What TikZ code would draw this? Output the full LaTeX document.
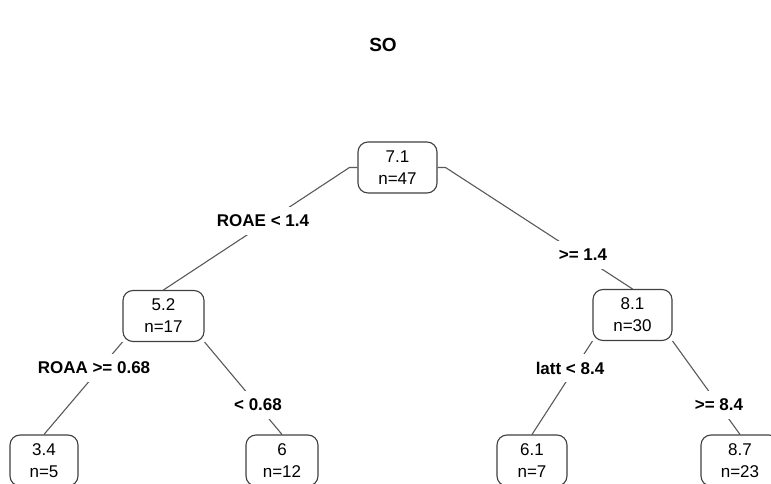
\documentclass[tikz,border=0pt]{standalone}
\usepackage{fontspec}
\setmainfont{Liberation Sans}
\usetikzlibrary{backgrounds}
\begin{document}
\begin{tikzpicture}[x=1pt,y=-1pt,
  tnode/.style={draw=black!75, line width=1.1pt, rounded corners=10pt, fill=white,
    minimum height=51pt, inner sep=0pt, align=center,
    font=\fontsize{17}{22}\selectfont},
  slabel/.style={fill=white, inner xsep=2pt, inner ysep=8pt,
    font=\fontsize{17}{20}\bfseries\selectfont},
  branch/.style={draw=black!65, line width=1.1pt}]
\clip (0,0) rectangle (771,484);
\node[font=\fontsize{19}{21}\bfseries\selectfont] (title) at (383,45) {SO};
% nodes
\node[tnode, minimum width=79pt] (n71) at (397.5,167.5) {7.1\\n=47};
\node[tnode, minimum width=81pt] (n52) at (163.5,316) {5.2\\n=17};
\node[tnode, minimum width=79pt] (n81) at (632.5,315) {8.1\\n=30};
\node[tnode, minimum width=68pt] (n34) at (44,460.5) {3.4\\n=5};
\node[tnode, minimum width=72pt] (n6) at (282,460.5) {6\\n=12};
\node[tnode, minimum width=70pt] (n61) at (532,460.5) {6.1\\n=7};
\node[tnode, minimum width=78pt] (n87) at (740,460.5) {8.7\\n=23};
% branches
\begin{pgfonlayer}{background}
\draw[branch] (n71.west) -- ++(-8,0) -- (n52.north);
\draw[branch] (n71.east) -- ++(8,0) -- (n81.north);
\draw[branch] (n52.south west) -- (n34.north);
\draw[branch] (n52.south east) -- (n6.north);
\draw[branch] (n81.south west) -- (n61.north);
\draw[branch] (n81.south east) -- (n87.north);
\end{pgfonlayer}
% split labels
\node[slabel] (l1) at (263,221) {ROAE < 1.4};
\node[slabel] (l2) at (583,255) {>= 1.4};
\node[slabel] (l3) at (94,368) {ROAA >= 0.68};
\node[slabel] (l4) at (258,405) {< 0.68};
\node[slabel] (l5) at (570,368) {latt < 8.4};
\node[slabel] (l6) at (719,405) {>= 8.4};
\end{tikzpicture}
\end{document}
